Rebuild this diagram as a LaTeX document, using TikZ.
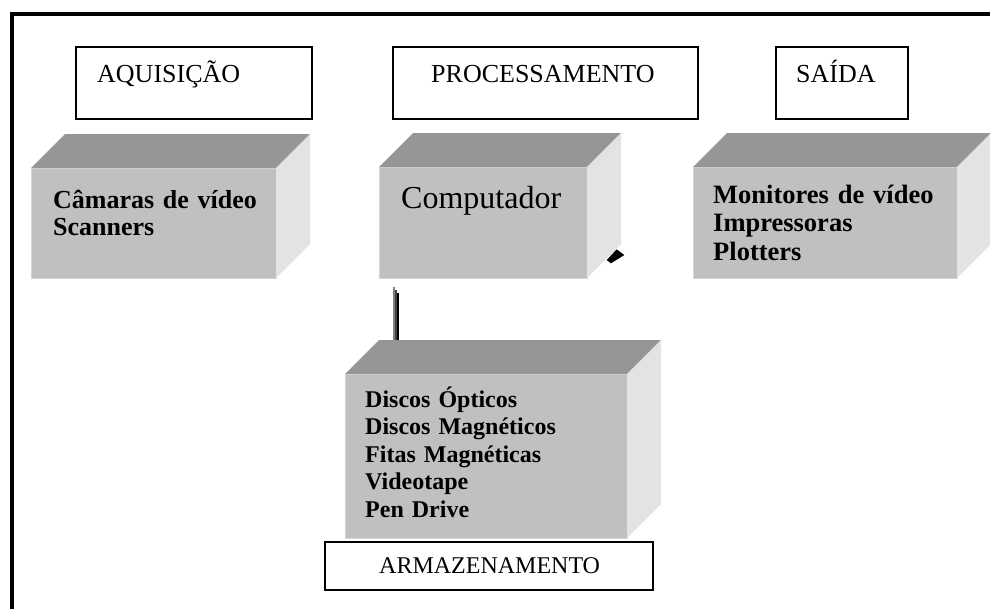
\documentclass[tikz,border=0pt]{standalone}
\usepackage{fontspec}
\setmainfont{Liberation Serif}
\usetikzlibrary{calc}
\definecolor{cinzatopo}{RGB}{150,150,150}
\definecolor{cinzafrente}{RGB}{192,192,192}
\definecolor{cinzalado}{RGB}{227,227,227}
\definecolor{cinzaborda}{RGB}{214,214,214}

\begin{document}
\begin{tikzpicture}[x=1pt, y=-1pt,
	titulo/.style={draw, line width=1.8pt, inner sep=0pt, outer sep=0pt},
	frente/.style={fill=cinzafrente, draw=cinzaborda, line width=1pt, inner sep=0pt, outer sep=0pt},
	texto/.style={anchor=base west, inner sep=0pt, text width=300pt, align=left}]

	\useasboundingbox (0,0) rectangle (990,608);

	% Moldura
	\draw[line width=3.5pt] (12,620) -- (12,14) -- (1000,14);

	% Aquisicao
	\node[titulo, minimum width=236pt, minimum height=72pt] (aq) at (194,83) {};
	\node[texto, font=\fontsize{26}{28}\selectfont] (aqt) at (97,82) {AQUISIÇÃO};
	\node[frente, minimum width=245pt, minimum height=110pt] (cam) at (153.5,223) {};
	\node[texto, font=\bfseries\fontsize{26}{27}\selectfont] (camt) at (53,208) {Câmaras de vídeo\\Scanners};

	% Processamento
	\node[titulo, minimum width=305pt, minimum height=72pt] (proc) at (545.5,83) {};
	\node[texto, font=\fontsize{26}{28}\selectfont] (proct) at (431,82) {PROCESSAMENTO};
	\node[frente, minimum width=208pt, minimum height=111pt] (comp) at (483,222.5) {};
	\node[texto, font=\fontsize{32}{34}\selectfont] (compt) at (401,208) {Computador};

	% Saida
	\node[titulo, minimum width=132pt, minimum height=72pt] (sai) at (842,83) {};
	\node[texto, font=\fontsize{26}{28}\selectfont] (sait) at (796,82) {SAÍDA};
	\node[frente, minimum width=264pt, minimum height=111pt] (out) at (825,222.5) {};
	\node[texto, font=\bfseries\fontsize{26.5}{28.5}\selectfont] (outt) at (713,203) {Monitores de vídeo\\Impressoras\\Plotters};

	% Armazenamento
	\node[frente, minimum width=282pt, minimum height=164pt] (stor) at (486,456) {};
	\node[texto, font=\bfseries\fontsize{24}{27.5}\selectfont] (stort) at (365,407) {Discos Ópticos\\Discos Magnéticos\\Fitas Magnéticas\\Videotape\\Pen Drive};
	\node[titulo, minimum width=328pt, minimum height=48pt] (arm) at (489,566) {};
	\node[texto, font=\fontsize{24}{26}\selectfont] (armt) at (379,573) {ARMAZENAMENTO};

	% Faces dos blocos
	\foreach \n in {cam,comp,out,stor} {
		\fill[cinzatopo] (\n.north west) -- ++(34,-34) -- ($(\n.north east)+(34,-34)$) -- (\n.north east) -- cycle;
		\fill[cinzalado] (\n.north east) -- ++(34,-34) -- ($(\n.south east)+(34,-34)$) -- (\n.south east) -- cycle;
	}

	% Restos das setas
	\foreach \x/\y/\c [count=\i] in {393.7/287/gray, 395.7/290/darkgray, 398.3/292.7/black} {
		\coordinate (h\i) at (\x,\y);
		\draw[line width=2pt, \c] (h\i) -- ($(h\i |- stor.north)+(0,-34)$);
	}
	\fill (606.7,260) -- (616.7,249.3) -- (624.3,255) -- (611,263.3) -- cycle;

\end{tikzpicture}
\end{document}
